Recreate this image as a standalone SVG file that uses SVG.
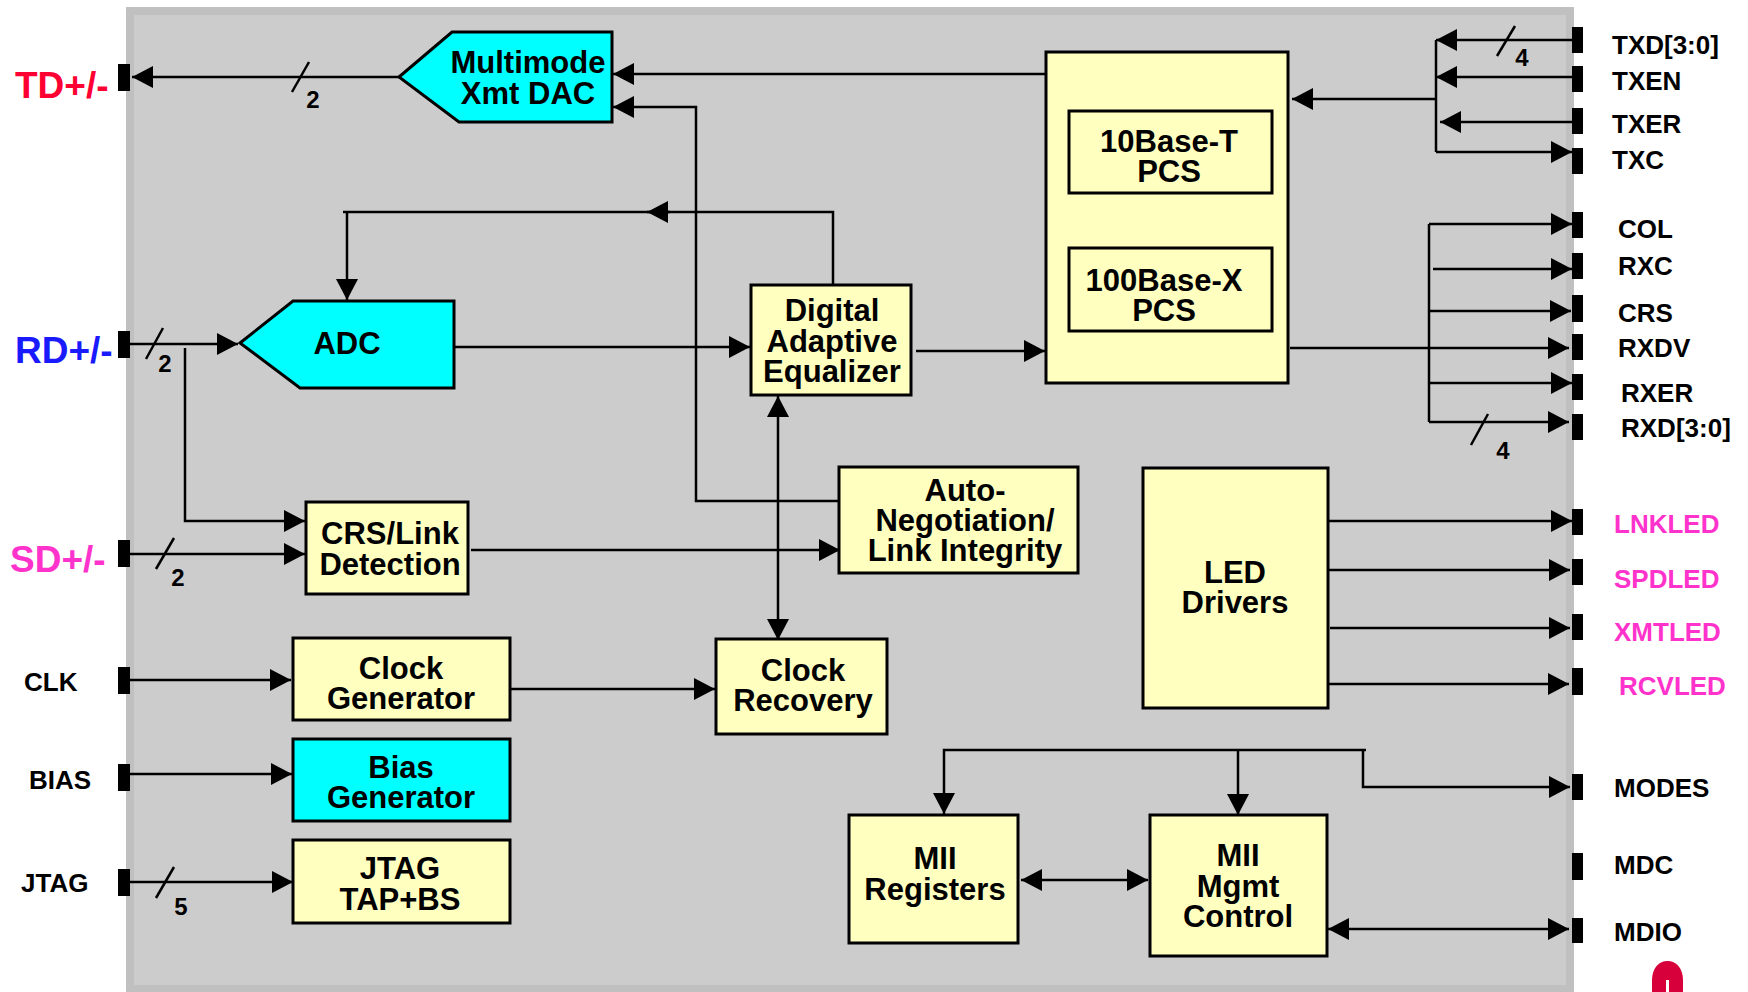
<svg xmlns="http://www.w3.org/2000/svg" width="1748" height="992" viewBox="0 0 1748 992">
  <defs>
    <style>
      .box { fill: #ffffc0; stroke: #000; stroke-width: 3; }
      .cyan { fill: #00ffff; stroke: #000; stroke-width: 3; }
      .t { font-family: "Liberation Sans", Arial, sans-serif; font-weight: bold; font-size: 31px; text-anchor: middle; fill: #000; }
      .lbl { font-family: "Liberation Sans", Arial, sans-serif; font-weight: bold; font-size: 26px; fill: #000; }
      .big { font-family: "Liberation Sans", Arial, sans-serif; font-weight: bold; font-size: 37px; }
      .num { font-family: "Liberation Sans", Arial, sans-serif; font-weight: bold; font-size: 24px; text-anchor: middle; fill: #000; }
      .pink { fill: #ff33cc; }
      .pin { fill: #000; }
      .w { fill: none; stroke: #000; stroke-width: 2.5; }
      .a { marker-end: url(#ah); }
      .s { marker-start: url(#ah); }
      .aa { marker-start: url(#ah); marker-end: url(#ah); }
    </style>
    <marker id="ah" viewBox="0 0 21 22" refX="21" refY="11" markerWidth="21" markerHeight="22" markerUnits="userSpaceOnUse" orient="auto-start-reverse">
      <path d="M0,0 L21,11 L0,22 Z" fill="#000"/>
    </marker>
  </defs>

  <rect width="1748" height="992" fill="#ffffff"/>

  <!-- chip outline -->
  <g id="chip">
    <rect x="126" y="7" width="1448" height="995" fill="#c0c0c0"/>
    <rect x="134" y="15" width="1432" height="970" fill="#cccccc"/>
  </g>

  <!-- connectors -->
  <g id="connectors">
    <!-- transmit path -->
    <path class="w a" d="M399,77 H132"/>
    <path class="w a" d="M1046,74 H613"/>
    <path class="w a" d="M839,501 H696 V107 H613"/>
    <!-- receive analog front end -->
    <path class="w a" d="M130,344 H238"/>
    <path class="w a" d="M185,348 V521 H305"/>
    <path class="w a" d="M130,554 H305"/>
    <path class="w a" d="M454,347 H750"/>
    <path class="w a" d="M916,351 H1045"/>
    <!-- equalizer feedback to ADC -->
    <path class="w" d="M833,285 V212 H343"/>
    <path class="w a" d="M670,212 H647"/>
    <path class="w a" d="M347,212 V300"/>
    <path class="w aa" d="M778,396 V640"/>
    <path class="w a" d="M471,550 H840"/>
    <!-- clock / bias / jtag -->
    <path class="w a" d="M130,680 H291"/>
    <path class="w a" d="M510,689 H715"/>
    <path class="w a" d="M130,774 H292"/>
    <path class="w a" d="M130,882 H293"/>
    <!-- MII transmit -->
    <path class="w a" d="M1572,40 H1436"/>
    <path class="w a" d="M1572,77 H1436"/>
    <path class="w a" d="M1572,122 H1440"/>
    <path class="w" d="M1436,40 V152"/>
    <path class="w a" d="M1436,152 H1572"/>
    <path class="w a" d="M1436,99 H1292"/>
    <!-- MII receive -->
    <path class="w" d="M1429,224 V422"/>
    <path class="w a" d="M1429,224 H1572"/>
    <path class="w a" d="M1433,269 H1572"/>
    <path class="w a" d="M1429,311 H1571"/>
    <path class="w a" d="M1290,348 H1569"/>
    <path class="w a" d="M1429,383 H1572"/>
    <path class="w a" d="M1429,422 H1569"/>
    <!-- LED outputs -->
    <path class="w a" d="M1328,521 H1572"/>
    <path class="w a" d="M1328,570 H1570"/>
    <path class="w a" d="M1330,628 H1570"/>
    <path class="w a" d="M1328,684 H1569"/>
    <!-- management -->
    <path class="w s" d="M944,814 V750 H1366"/>
    <path class="w a" d="M1363,750 V787 H1570"/>
    <path class="w a" d="M1238,750 V815"/>
    <path class="w aa" d="M1021,880 H1148"/>
    <path class="w aa" d="M1328,929 H1569"/>
    <!-- bus width slashes -->
    <path class="w" d="M292,92 L309,62"/>
    <path class="w" d="M146,359 L163,328"/>
    <path class="w" d="M156,569 L174,538"/>
    <path class="w" d="M156,898 L174,867"/>
    <path class="w" d="M1497,56 L1515,26"/>
    <path class="w" d="M1471,445 L1488,414"/>
    <text class="num" x="313" y="108">2</text>
    <text class="num" x="165" y="372">2</text>
    <text class="num" x="178" y="586">2</text>
    <text class="num" x="181" y="915">5</text>
    <text class="num" x="1522" y="66">4</text>
    <text class="num" x="1503" y="459">4</text>
  </g>

  <!-- blocks -->
  <g id="dac">
    <polygon class="cyan" points="399,77 452,32 612,32 612,122 459,122"/>
    <text class="t" x="528" y="73">Multimode</text>
    <text class="t" x="528" y="104">Xmt DAC</text>
  </g>
  <g id="adc">
    <polygon class="cyan" points="240,343 293,301 454,301 454,388 300,388"/>
    <text class="t" x="347" y="354">ADC</text>
  </g>
  <g id="pcs">
    <rect class="box" x="1046" y="52" width="242" height="331"/>
  </g>
  <g id="pcs10">
    <rect class="box" x="1069" y="111" width="203" height="82"/>
    <text class="t" x="1169" y="152">10Base-T</text>
    <text class="t" x="1169" y="182">PCS</text>
  </g>
  <g id="pcs100">
    <rect class="box" x="1069" y="248" width="203" height="83"/>
    <text class="t" x="1164" y="291">100Base-X</text>
    <text class="t" x="1164" y="321">PCS</text>
  </g>
  <g id="equalizer">
    <rect class="box" x="751" y="285" width="160" height="110"/>
    <text class="t" x="832" y="321">Digital</text>
    <text class="t" x="832" y="352">Adaptive</text>
    <text class="t" x="832" y="382">Equalizer</text>
  </g>
  <g id="autoneg">
    <rect class="box" x="839" y="467" width="239" height="106"/>
    <text class="t" x="965" y="501">Auto-</text>
    <text class="t" x="965" y="531">Negotiation/</text>
    <text class="t" x="965" y="561">Link Integrity</text>
  </g>
  <g id="crslink">
    <rect class="box" x="306" y="502" width="162" height="92"/>
    <text class="t" x="390" y="544">CRS/Link</text>
    <text class="t" x="390" y="575">Detection</text>
  </g>
  <g id="leddrv">
    <rect class="box" x="1143" y="468" width="185" height="240"/>
    <text class="t" x="1235" y="583">LED</text>
    <text class="t" x="1235" y="613">Drivers</text>
  </g>
  <g id="clkgen">
    <rect class="box" x="293" y="638" width="217" height="82"/>
    <text class="t" x="401" y="679">Clock</text>
    <text class="t" x="401" y="709">Generator</text>
  </g>
  <g id="clkrec">
    <rect class="box" x="716" y="639" width="171" height="95"/>
    <text class="t" x="803" y="681">Clock</text>
    <text class="t" x="803" y="711">Recovery</text>
  </g>
  <g id="biasgen">
    <rect class="cyan" x="293" y="739" width="217" height="82"/>
    <text class="t" x="401" y="778">Bias</text>
    <text class="t" x="401" y="808">Generator</text>
  </g>
  <g id="jtag">
    <rect class="box" x="293" y="840" width="217" height="83"/>
    <text class="t" x="400" y="879">JTAG</text>
    <text class="t" x="400" y="910">TAP+BS</text>
  </g>
  <g id="miireg">
    <rect class="box" x="849" y="815" width="169" height="128"/>
    <text class="t" x="935" y="869">MII</text>
    <text class="t" x="935" y="900">Registers</text>
  </g>
  <g id="miimgmt">
    <rect class="box" x="1150" y="815" width="177" height="141"/>
    <text class="t" x="1238" y="866">MII</text>
    <text class="t" x="1238" y="897">Mgmt</text>
    <text class="t" x="1238" y="927">Control</text>
  </g>

  <!-- pins -->
  <g id="pins">
    <rect class="pin" x="118" y="64" width="12" height="27"/>
    <rect class="pin" x="118" y="331" width="12" height="27"/>
    <rect class="pin" x="118" y="540" width="12" height="27"/>
    <rect class="pin" x="118" y="667" width="12" height="27"/>
    <rect class="pin" x="118" y="764" width="12" height="27"/>
    <rect class="pin" x="118" y="869" width="12" height="27"/>
    <rect class="pin" x="1572" y="27" width="11" height="26"/>
    <rect class="pin" x="1572" y="66" width="11" height="26"/>
    <rect class="pin" x="1572" y="108" width="11" height="26"/>
    <rect class="pin" x="1572" y="148" width="11" height="26"/>
    <rect class="pin" x="1572" y="212" width="11" height="26"/>
    <rect class="pin" x="1572" y="253" width="11" height="26"/>
    <rect class="pin" x="1572" y="295" width="11" height="27"/>
    <rect class="pin" x="1572" y="334" width="11" height="26"/>
    <rect class="pin" x="1572" y="374" width="11" height="26"/>
    <rect class="pin" x="1572" y="414" width="11" height="26"/>
    <rect class="pin" x="1572" y="509" width="11" height="26"/>
    <rect class="pin" x="1572" y="559" width="11" height="26"/>
    <rect class="pin" x="1572" y="614" width="11" height="26"/>
    <rect class="pin" x="1572" y="668" width="11" height="27"/>
    <rect class="pin" x="1572" y="774" width="11" height="26"/>
    <rect class="pin" x="1572" y="853" width="11" height="27"/>
    <rect class="pin" x="1572" y="918" width="11" height="25"/>
  </g>

  <!-- pin names -->
  <g id="pin-labels">
    <text class="big" x="15" y="98" fill="#ff0033">TD+/-</text>
    <text class="big" x="15" y="363" fill="#1a1aff">RD+/-</text>
    <text class="big" x="10" y="572" fill="#ff33cc">SD+/-</text>
    <text class="lbl" x="24" y="691">CLK</text>
    <text class="lbl" x="29" y="789">BIAS</text>
    <text class="lbl" x="21" y="892">JTAG</text>
    <text class="lbl" x="1612" y="54">TXD[3:0]</text>
    <text class="lbl" x="1612" y="90">TXEN</text>
    <text class="lbl" x="1612" y="133">TXER</text>
    <text class="lbl" x="1612" y="169">TXC</text>
    <text class="lbl" x="1618" y="238">COL</text>
    <text class="lbl" x="1618" y="275">RXC</text>
    <text class="lbl" x="1618" y="322">CRS</text>
    <text class="lbl" x="1618" y="357">RXDV</text>
    <text class="lbl" x="1621" y="402">RXER</text>
    <text class="lbl" x="1621" y="437">RXD[3:0]</text>
    <text class="lbl pink" x="1614" y="533">LNKLED</text>
    <text class="lbl pink" x="1614" y="588">SPDLED</text>
    <text class="lbl pink" x="1614" y="641">XMTLED</text>
    <text class="lbl pink" x="1619" y="695">RCVLED</text>
    <text class="lbl" x="1614" y="797">MODES</text>
    <text class="lbl" x="1614" y="874">MDC</text>
    <text class="lbl" x="1614" y="941">MDIO</text>
  </g>

  <!-- partial logo mark at lower right -->
  <g id="logo">
    <path d="M1652,992 L1652,980 C1652,968 1659,961 1667.5,961 C1676,961 1683,968 1683,980 L1683,992 Z" fill="#d7003a"/>
    <rect x="1666" y="980" width="3" height="12" fill="#ffffff"/>
  </g>
</svg>
